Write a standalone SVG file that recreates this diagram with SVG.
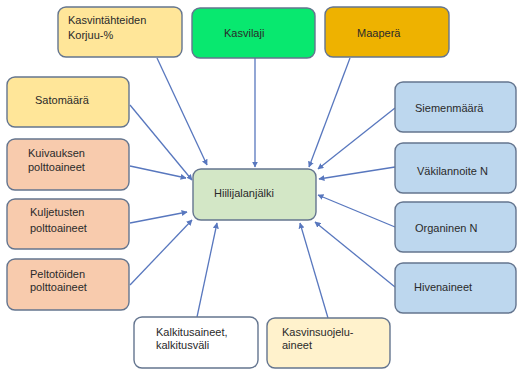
<svg xmlns="http://www.w3.org/2000/svg" width="517" height="369" viewBox="0 0 517 369">
<style>
.box{stroke:#64758F;stroke-width:1.4}
.t{font-family:"Liberation Sans",Arial,sans-serif;font-size:11px;fill:#2a2a2a}
.c{stroke:#5877BE;stroke-width:1.3;fill:none;marker-end:url(#ah)}
</style>
<defs>
<marker id="ah" viewBox="0 0 10 10" refX="9" refY="5" markerWidth="6" markerHeight="6" markerUnits="userSpaceOnUse" orient="auto">
<path d="M0,0 L10,5 L0,10 z" fill="#5877BE"/>
</marker>
</defs>
<rect width="517" height="369" fill="#fff"/>
<g id="connectors">
<line class="c" x1="157" y1="58" x2="207" y2="165"/>
<line class="c" x1="255" y1="58" x2="255" y2="167"/>
<line class="c" x1="350" y1="58" x2="309" y2="167"/>
<line class="c" x1="130" y1="105" x2="192" y2="180"/>
<line class="c" x1="130" y1="166" x2="186" y2="178"/>
<line class="c" x1="130" y1="223" x2="187" y2="212"/>
<line class="c" x1="130" y1="285" x2="192" y2="220"/>
<line class="c" x1="197" y1="317" x2="217" y2="223"/>
<line class="c" x1="328" y1="318" x2="300" y2="223"/>
<line class="c" x1="395" y1="108" x2="318" y2="169"/>
<line class="c" x1="395" y1="167" x2="319" y2="179"/>
<line class="c" x1="395" y1="227" x2="318" y2="195"/>
<line class="c" x1="395" y1="287" x2="315" y2="222"/>
</g>
<g id="kasvintahteiden"><rect class="box" x="58" y="7" width="124" height="50" rx="8" fill="#FFE699"/><text class="t" x="68" y="24">Kasvintähteiden</text><text class="t" x="68" y="39">Korjuu-%</text></g>
<g id="kasvilaji"><rect class="box" x="192" y="8" width="123" height="50" rx="8" fill="#08E86F"/><text class="t" x="224" y="37">Kasvilaji</text></g>
<g id="maapera"><rect class="box" x="325" y="7" width="124" height="50" rx="8" fill="#EEB200"/><text class="t" x="357" y="37">Maaperä</text></g>
<g id="satomaara"><rect class="box" x="7" y="77" width="122" height="50" rx="8" fill="#FFE699"/><text class="t" x="35" y="104">Satomäärä</text></g>
<g id="kuivauksen"><rect class="box" x="7" y="139" width="122" height="51" rx="8" fill="#F8CBAD"/><text class="t" x="28" y="157">Kuivauksen</text><text class="t" x="28" y="171">polttoaineet</text></g>
<g id="kuljetusten"><rect class="box" x="7" y="199" width="122" height="50" rx="8" fill="#F8CBAD"/><text class="t" x="30" y="216">Kuljetusten</text><text class="t" x="30" y="232">polttoaineet</text></g>
<g id="peltotoiden"><rect class="box" x="7" y="259" width="122" height="51" rx="8" fill="#F8CBAD"/><text class="t" x="30" y="278">Peltotöiden</text><text class="t" x="30" y="291">polttoaineet</text></g>
<g id="hiilijalanjalki"><rect class="box" x="193" y="169" width="123" height="51" rx="8" fill="#D3E7C6"/><text class="t" x="214" y="197">Hiilijalanjälki</text></g>
<g id="siemenmaara"><rect class="box" x="395" y="82" width="121" height="50" rx="8" fill="#BDD7EE"/><text class="t" x="415" y="112">Siemenmäärä</text></g>
<g id="vakilannoite"><rect class="box" x="395" y="143" width="121" height="50" rx="8" fill="#BDD7EE"/><text class="t" x="417" y="175">Väkilannoite N</text></g>
<g id="organinen"><rect class="box" x="395" y="202" width="121" height="50" rx="8" fill="#BDD7EE"/><text class="t" x="415" y="232">Organinen N</text></g>
<g id="hivenaineet"><rect class="box" x="395" y="263" width="121" height="50" rx="8" fill="#BDD7EE"/><text class="t" x="414" y="291">Hivenaineet</text></g>
<g id="kalkitus"><rect class="box" x="134" y="317" width="124" height="51" rx="8" fill="#FFFFFF"/><text class="t" x="156" y="336">Kalkitusaineet,</text><text class="t" x="156" y="349">kalkitusväli</text></g>
<g id="kasvinsuojelu"><rect class="box" x="267" y="318" width="123" height="50" rx="8" fill="#FFF2CC"/><text class="t" x="282" y="336">Kasvinsuojelu-</text><text class="t" x="282" y="349">aineet</text></g>
</svg>
